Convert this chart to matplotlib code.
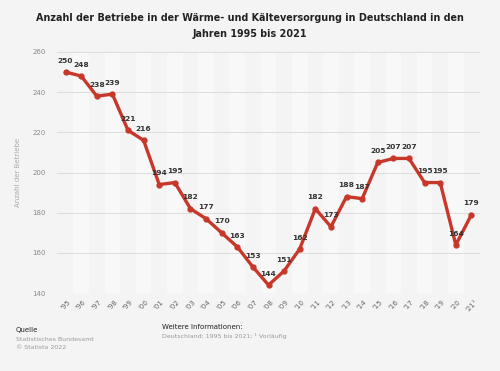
import numpy as np
import matplotlib.pyplot as plt

# data
years = list(range(1995, 2022))
tick_labels = ["'%02d" % (y % 100) for y in years]
tick_labels[-1] = "'21¹"
values = [250, 248, 238, 239, 221, 216, 194, 195, 182, 177, 170, 163, 153,
          144, 151, 162, 182, 173, 188, 187, 205, 207, 207, 195, 195, 164, 179]

red = '#c7372a'
bg = '#f4f4f4'

fig = plt.figure(figsize=(5, 3.71), dpi=100)
fig.patch.set_facecolor(bg)
ax = fig.add_axes([0.114, 0.21, 0.846, 0.65])
ax.set_facecolor(bg)

x = np.arange(len(years))
# alternating column bands
for i in x:
    if i % 2 == 1:
        ax.axvspan(i - 0.5, i + 0.5, color='white', alpha=0.45, lw=0, zorder=0)

ax.plot(x, values, color=red, lw=2.4, marker='o', ms=3.5, zorder=3)
for i, v in zip(x, values):
    ax.annotate(str(v), (i, v), xytext=(0, 6), textcoords='offset points',
                ha='center', va='bottom', fontsize=5.4, color='#333333',
                fontweight='semibold', zorder=4)

ax.set_xlim(-0.55, 26.55)
ax.set_ylim(140, 260)
ax.set_yticks(range(140, 261, 20))
ax.grid(axis='y', color='#dddddd', lw=0.7, zorder=1)
ax.set_axisbelow(True)
ax.set_xticks(x)
ax.set_xticklabels(tick_labels, rotation=45, fontsize=5, color='#666666')
ax.tick_params(axis='y', labelsize=5, colors='#888888', length=0, pad=8)
ax.tick_params(axis='x', length=0, pad=4)
for s in ax.spines.values():
    s.set_visible(False)
ax.set_ylabel('Anzahl der Betriebe', fontsize=5, color='#aaaaaa', labelpad=8)

fig.text(0.5, 0.965, 'Anzahl der Betriebe in der Wärme- und Kälteversorgung in Deutschland in den\nJahren 1995 bis 2021',
         ha='center', va='top', fontsize=6.9, fontweight='bold', color='#222222',
         linespacing=1.75)

fig.text(0.032, 0.105, 'Quelle', fontsize=5, color='#222222')
fig.text(0.032, 0.082, 'Statistisches Bundesamt', fontsize=4.5, color='#999999')
fig.text(0.032, 0.06, '© Statista 2022', fontsize=4.5, color='#999999')
fig.text(0.325, 0.112, 'Weitere Informationen:', fontsize=5, color='#222222')
fig.text(0.325, 0.09, 'Deutschland; 1995 bis 2021; ¹ Vorläufig', fontsize=4.5, color='#999999')

fig.savefig('out.png', dpi=100, facecolor=bg)
